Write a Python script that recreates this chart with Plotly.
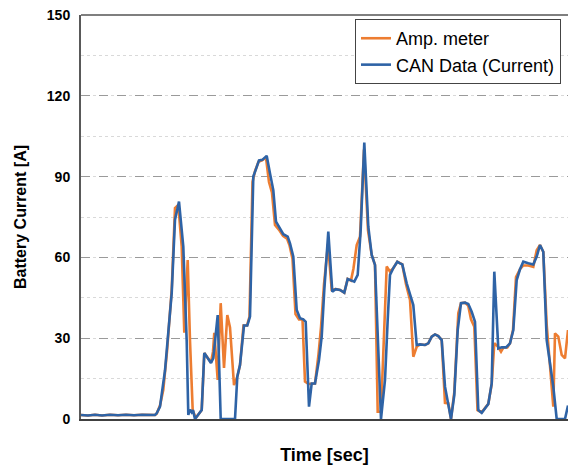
import plotly.graph_objects as go

# ---- data (time in s, current in A) ----
can_time = [0, 7, 14, 21, 29, 37, 45, 53, 61, 69, 74,
            75.7, 79, 84, 87.3, 90.7, 94, 98, 102.3, 105.7, 107.3, 109, 110.7, 112, 114, 120.7,
            123.3, 130, 132.3, 136.7, 139.7, 154, 156.3, 159, 163, 166.3, 169, 172.3, 174.7,
            178, 181.3, 185.7, 189, 192.3, 195, 199, 202.3, 206.7, 209, 212.3, 215.7, 219,
            222.3, 224.7, 228, 230.7, 234, 238, 240.7, 243.3, 247.3, 251.3, 254.7, 259, 263.3,
            266.7, 270, 273.3, 276.7, 279.7, 283.3, 287.3, 290.7, 294, 300, 304, 306.7, 309,
            312.3, 316.3, 319, 321.3, 325.7, 329, 332.3, 335.7, 339, 344, 347.3, 350.7, 354,
            357.3, 360.7, 364, 367.3, 370, 373.3, 376.7, 380, 384, 387.3, 390.7, 394, 397.3,
            400.7, 404, 407.3, 410.7, 413.3, 417.3, 420.7, 425, 429, 432.3, 435.7, 439, 442.3,
            447.3, 452.3, 455.7, 459, 462.3, 465.7, 469, 472.3, 475.7, 484, 487]
can_current = [1.5, 1.3, 1.6, 1.3, 1.6, 1.4, 1.6, 1.4, 1.6, 1.5, 1.5,
               2.1, 4.6, 18, 33, 46.7, 74, 80.7, 64, 29, 1.5, 3.5, 2.5, 3.3, 0, 3.3,
               24.5, 20.8, 22.6, 38.6, 0, 0, 15.7, 20, 34.7, 34.7, 38, 90, 92.5,
               96, 96.2, 97.7, 91.2, 85, 73.3, 70.8, 68.6, 67.7, 65.2, 60.3, 40.5, 37.4,
               37, 36.1, 4.6, 13.2, 13.2, 21.9, 30.6, 47.9, 69.6, 47.3, 48.2, 47.9, 46.9,
               52, 51.4, 51, 53.5, 70.2, 102.6, 71.4, 60.9, 57.2, 0, 14.5, 36.8, 53.5,
               56, 58.4, 57.8, 57.4, 50.4, 46.7, 42.3, 27.5, 27.7, 27.5, 28.1, 30.6, 31.4,
               30.8, 29.3, 12, 5.8, 0, 8.9, 33, 43, 43.2, 42.7, 39.8, 36.1,
               3.3, 2.3, 4, 5.6, 13.2, 54.7, 26.2, 26.6, 26.6, 28.1, 33, 51.6, 55.6, 58.4,
               57.8, 57.4, 60.3, 64.6, 62.1, 29.3, 20.7, 12, 0, 0, 5]

amp_time = [0, 7, 14, 21, 29, 37, 45, 53, 61, 69, 74,
            75.7, 79, 82.3, 86, 90.7, 94, 97.3, 100.7, 103.3, 106.7, 109, 111.7, 114.7, 120.7,
            123.3, 130, 132, 133.3, 136.7, 139.7, 143, 146.3, 149, 153, 156.3, 159, 162.5,
            166, 168.5, 171.5, 174, 177.5, 181, 185, 188, 191, 194, 198.5, 202, 206, 208.5,
            211.5, 214.5, 218, 221.5, 224, 227.5, 230.7, 234, 237.5, 240, 243, 247, 250.7,
            254.7, 259, 263.3, 266.7, 270, 272.5, 275.7, 279, 283, 287, 290.7, 294, 296.7,
            300, 305.7, 309, 312.3, 316.3, 319, 321.3, 325, 329, 332.3, 335.7, 339, 344,
            347.3, 350.7, 354, 357.3, 360.7, 364, 367.3, 370, 373.3, 377.3, 380, 384, 387.3,
            390, 393.3, 396.5, 400.7, 404, 407.3, 410.7, 413.3, 416.7, 420, 422.5, 426.3,
            429, 432, 435, 439, 442.3, 447.3, 452.3, 455.7, 459, 462.3, 465.7, 469, 472.3,
            474, 477.3, 480.7, 484, 487]
amp_current = [1.5, 1.3, 1.6, 1.3, 1.6, 1.4, 1.6, 1.4, 1.6, 1.5, 1.5,
               2, 5, 10.8, 25, 48, 78.3, 79.5, 64, 32, 59, 29, 3.3, 0.4, 3.3,
               24.5, 21, 25, 32, 14.5, 43, 19, 38.6, 34, 12.6, 15.7, 20, 34.7,
               34.7, 38, 88, 92, 95.5, 96, 97, 88, 84, 72, 70, 68, 67, 64.5,
               59.5, 39, 37, 37, 13.9, 13, 13.2, 13.2, 24, 34, 50, 65, 48,
               48.2, 47.9, 46.9, 52, 51.4, 56, 64.6, 67.7, 100, 70, 60.9, 57.2, 2.7,
               2.7, 56.6, 54.7, 56, 58.4, 57.8, 57.4, 50, 44.2, 23.1, 26.8, 27.7, 27.5,
               28.1, 30.6, 31.4, 30.8, 29.3, 6, 5.8, 0, 10, 39.3, 43, 43.2, 42,
               37, 34.3, 3.3, 2.5, 4, 5.6, 13, 28.1, 27, 25, 26.6, 26.6,
               28.1, 33, 52.7, 55.6, 57, 57, 56.5, 62.7, 64.6, 62, 35, 20.7, 4.6,
               31.8, 30.6, 23.8, 22.5, 33]

series_names = ["Amp. meter", "CAN Data (Current)"]
y_ticks = [0, 30, 60, 90, 120, 150]

FONT = "Liberation Sans, Arial, sans-serif"

fig = go.Figure()
fig.add_trace(go.Scatter(x=amp_time, y=amp_current, mode="lines", name=series_names[0],
                         line=dict(color="#ED7D31", width=2.6)))
fig.add_trace(go.Scatter(x=can_time, y=can_current, mode="lines", name=series_names[1],
                         line=dict(color="#2E63A6", width=2.6)))

fig.update_layout(
    width=568, height=465,
    margin=dict(l=81, r=0, t=15, b=46),
    paper_bgcolor="white", plot_bgcolor="white",
    font=dict(family=FONT, color="black"),
    showlegend=True,
    legend=dict(x=0.9856, y=0.99, xanchor="right", yanchor="top",
                bgcolor="white", bordercolor="#444444", borderwidth=1,
                font=dict(size=18, family=FONT), tracegroupgap=0,
                itemwidth=30),
    shapes=[dict(type="line", xref="paper", yref="paper", x0=0, x1=1, y0=1, y1=1,
                 line=dict(color="black", width=1.2))],
)
fig.update_xaxes(range=[0, 487], showticklabels=False, showgrid=False, zeroline=False,
                 showline=True, linecolor="#404040", linewidth=2, ticks="",
                 title=dict(text="<b>Time [sec]</b>", font=dict(size=18, family=FONT), standoff=30))
fig.update_yaxes(range=[0, 150], tickvals=y_ticks, ticktext=[f"<b>{v}</b>" for v in y_ticks],
                 tickfont=dict(size=14, family=FONT), ticks="", ticklabelstandoff=6,
                 showgrid=True, gridcolor="#9a9a9a", griddash="dash", gridwidth=1,
                 zeroline=False, showline=True, linecolor="#595959", linewidth=2,
                 minor=dict(dtick=15, tick0=15, showgrid=True, gridcolor="#d9d9d9", griddash="dot", gridwidth=1),
                 title=dict(text="<b>Battery Current [A]</b>", font=dict(size=16, family=FONT), standoff=16))

fig.write_html("out.html")
